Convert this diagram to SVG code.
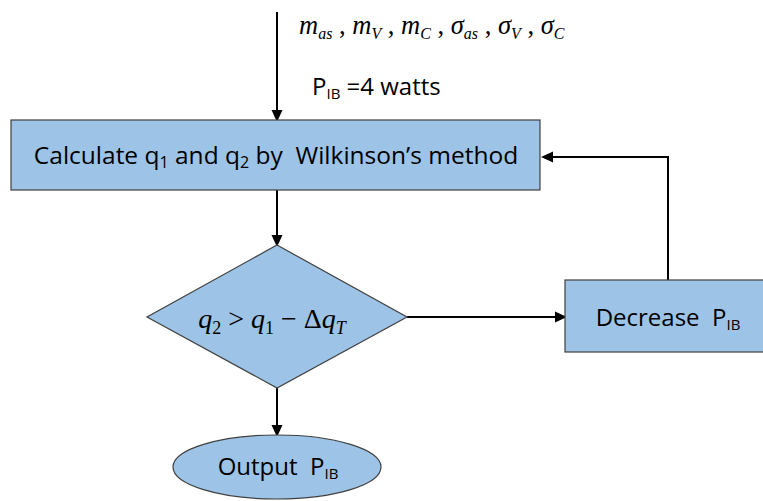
<svg xmlns="http://www.w3.org/2000/svg" width="763" height="501" viewBox="0 0 763 501">
<defs>
<marker id="ah" markerWidth="12" markerHeight="12" refX="10" refY="6" orient="auto" markerUnits="userSpaceOnUse" viewBox="0 0 12 12">
<path d="M0,0.5 L12,6 L0,11.5 z" fill="#000"/>
</marker>
<style>
.sh{fill:#9DC3E6;stroke:#404040;stroke-width:1.2}
.cn{fill:none;stroke:#000;stroke-width:2}
.t{font-family:"Open Sans","Liberation Sans",sans-serif;fill:#000;white-space:pre}
.m{font-family:"Liberation Serif",serif;font-style:italic;fill:#000;white-space:pre}
.u{font-style:normal}
</style>
</defs>
<rect width="763" height="501" fill="#fff"/>
<g id="connectors">
<line class="cn" x1="277" y1="12" x2="277" y2="120" marker-end="url(#ah)"/>
<line class="cn" x1="277" y1="190" x2="277" y2="245" marker-end="url(#ah)"/>
<line class="cn" x1="407" y1="317" x2="565" y2="317" marker-end="url(#ah)"/>
<polyline class="cn" points="668,280 668,157 543,157" marker-end="url(#ah)"/>
<line class="cn" x1="277" y1="388" x2="277" y2="435" marker-end="url(#ah)"/>
</g>
<g id="inputs">
<text class="m" x="299" y="34" font-size="26.5">m<tspan font-size="16" dy="5">as</tspan><tspan dy="-5" class="u"> , </tspan><tspan>m</tspan><tspan font-size="16" dy="5">V</tspan><tspan dy="-5" class="u"> , </tspan><tspan>m</tspan><tspan font-size="16" dy="5">C</tspan><tspan dy="-5" class="u"> , </tspan><tspan>σ</tspan><tspan font-size="16" dy="5">as</tspan><tspan dy="-5" class="u"> , </tspan><tspan>σ</tspan><tspan font-size="16" dy="5">V</tspan><tspan dy="-5" class="u"> , </tspan><tspan>σ</tspan><tspan font-size="16" dy="5">C</tspan></text>
<text class="t" x="312" y="95" font-size="24">P<tspan font-size="15" dy="4">IB</tspan><tspan dy="-4"> =4 watts</tspan></text>
</g>
<g id="calc">
<rect class="sh" x="11" y="120" width="529" height="70"/>
<text class="t" x="276" y="164" font-size="24.5" text-anchor="middle">Calculate q<tspan font-size="16" dy="4">1</tspan><tspan dy="-4"> and q</tspan><tspan font-size="16" dy="4">2</tspan><tspan dy="-4"> by &#160;Wilkinson’s method</tspan></text>
</g>
<g id="decision">
<polygon class="sh" points="277,245 407,317 277,388 147,317"/>
<text class="m" x="272" y="328" font-size="28" text-anchor="middle">q<tspan font-size="18" dy="6" class="u">2</tspan><tspan dy="-6" class="u"> &gt; </tspan><tspan>q</tspan><tspan font-size="18" dy="6" class="u">1</tspan><tspan dy="-6" class="u"> − Δ</tspan><tspan>q</tspan><tspan font-size="18" dy="6">T</tspan></text>
</g>
<g id="decrease">
<rect class="sh" x="565" y="280" width="200" height="72"/>
<text class="t" x="668" y="326" font-size="24" text-anchor="middle">Decrease &#160;P<tspan font-size="15" dy="4">IB</tspan></text>
</g>
<g id="output">
<ellipse class="sh" cx="277" cy="467" rx="104" ry="32"/>
<text class="t" x="278" y="475" font-size="24" text-anchor="middle">Output &#160;P<tspan font-size="15" dy="4">IB</tspan></text>
</g>
</svg>
